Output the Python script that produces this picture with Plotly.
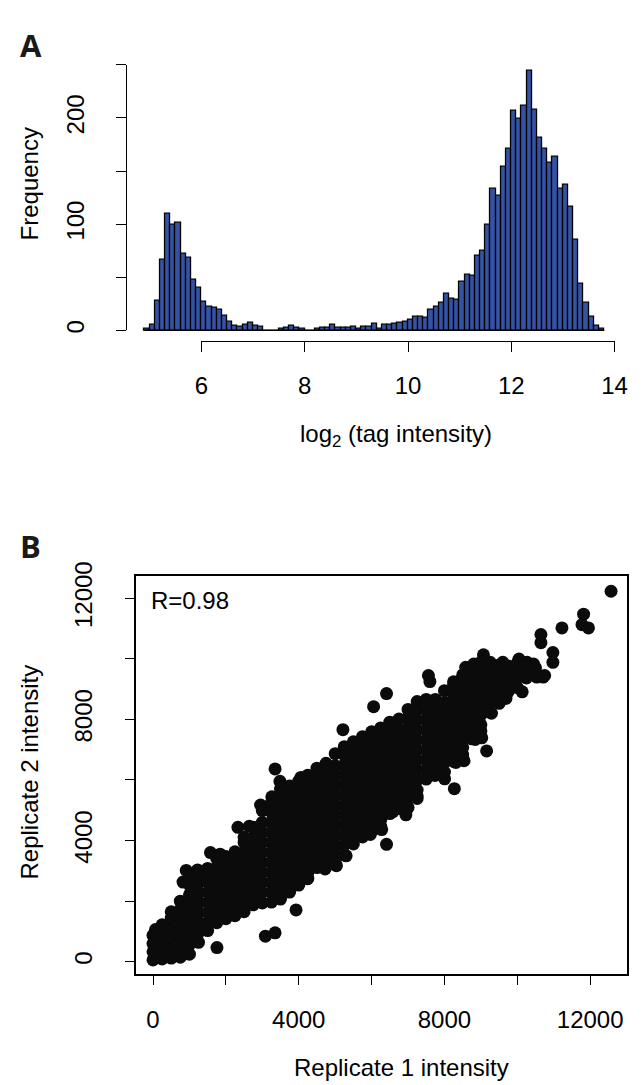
import plotly.graph_objects as go

# ---------------- Panel A: histogram of log2(tag intensity) ----------------
bin_start = 4.9
bin_width = 0.1
counts = [1, 5, 28, 66, 110, 99, 101, 72, 68, 48,
          40, 27, 22, 21, 19, 14, 8, 4, 3, 5,
          7, 4, 3, 0, 0, 0, 1, 2, 4, 2,
          1, 0, 0, 1, 2, 2, 5, 2, 2, 2,
          3, 1, 3, 3, 6, 1, 5, 5, 6, 7,
          8, 10, 13, 13, 12, 19, 22, 26, 34, 30,
          29, 46, 52, 51, 70, 75, 99, 133, 127, 154,
          171, 207, 199, 211, 244, 208, 181, 171, 158, 163,
          133, 137, 116, 85, 44, 26, 13, 4, 1]
hist_x_ticks = [6, 8, 10, 12, 14]
hist_y_labels = [0, 100, 200]
hist_y_minor = [50, 150, 250]

# ---------------- Panel B: replicate scatter ----------------
# isolated / edge points (replicate 1, replicate 2)
rep1_edge = [12573, 11819, 11775, 11952, 11225, 10648, 10648, 10976, 10976, 10711,
             10134, 9070, 8583, 8804, 9602, 10046, 10266, 10444, 7560, 7600,
             6410, 6055, 5213, 3351, 3484, 2331, 2641, 2952, 3262, 4060,
             1577, 1843, 912, 1223, 824, 69, 1755, 3085, 3351, 3926,
             4237, 4723, 5035, 5301, 6410, 6277, 5965, 6941, 6586, 7250,
             8271, 8005, 7739, 8537, 8314, 9157, 8846, 9024, 9290, 9689,
             10532]
rep2_edge = [12232, 11475, 11128, 11020, 11020, 10804, 10533, 10209, 9884, 9397,
             8910, 10133, 9722, 9830, 9884, 9992, 9883, 9830, 9450, 9250,
             8854, 8422, 7662, 6364, 5955, 4438, 4471, 5175, 5445, 6085,
             3604, 3552, 3013, 3032, 2630, 1062, 467, 844, 955, 1711,
             2740, 3065, 3172, 3497, 3876, 4364, 4201, 4851, 4958, 5390,
             5714, 6039, 6149, 6636, 6581, 6961, 7338, 7393, 8204, 8692,
             9396]

# dense core of the cloud, listed column by column (replicate 1 value per column)
rep1_core_cols = [0, 250, 500, 750, 1000, 1250, 1500, 1750, 2000, 2250,
                  2500, 2750, 3000, 3250, 3500, 3750, 4000, 4250, 4500, 4750,
                  5000, 5250, 5500, 5750, 6000, 6250, 6500, 6750, 7000, 7250,
                  7500, 7750, 8000, 8250, 8500, 8750, 9000, 9250, 9500, 9750,
                  10000, 10250, 10500, 10750]
rep2_core_cols = [
    [60, 330, 600, 870],
    [90, 400, 730, 1060, 1220],
    [120, 450, 780, 1110, 1440, 1650],
    [150, 400, 730, 1060, 1390, 1720, 2000],
    [250, 560, 890, 1220, 1550, 1880, 2210, 2540, 2750],
    [640, 960, 1290, 1620, 1950, 2280, 2610, 2850],
    [1030, 1300, 1630, 1960, 2290, 2620, 2950, 3080],
    [1290, 1460, 1790, 2120, 2450, 2780, 3110, 3400],
    [1420, 1630, 1960, 2290, 2620, 2950, 3280, 3470],
    [1520, 1790, 2120, 2450, 2780, 3110, 3440, 3630],
    [1650, 1960, 2290, 2620, 2950, 3280, 3610, 3940, 4110],
    [1880, 2120, 2450, 2780, 3110, 3440, 3770, 4100, 4440],
    [1940, 2290, 2620, 2950, 3280, 3610, 3940, 4270, 4600, 4990],
    [1970, 2300, 2630, 2960, 3290, 3620, 3950, 4280, 4610, 4940, 5250],
    [2070, 2400, 2730, 3060, 3390, 3720, 4050, 4380, 4710, 5040, 5370, 5700],
    [2300, 2610, 2940, 3270, 3600, 3930, 4260, 4590, 4920, 5250, 5580, 5800],
    [2530, 2780, 3110, 3440, 3770, 4100, 4430, 4760, 5090, 5420, 5750, 5960],
    [2750, 2940, 3270, 3600, 3930, 4260, 4590, 4920, 5250, 5580, 5910, 6160],
    [3110, 3440, 3770, 4100, 4430, 4760, 5090, 5420, 5750, 6080, 6390],
    [3140, 3330, 3660, 3990, 4320, 4650, 4980, 5310, 5640, 5970, 6300, 6550],
    [3270, 3500, 3830, 4160, 4490, 4820, 5150, 5480, 5810, 6140, 6470, 6870],
    [3530, 3860, 4190, 4520, 4850, 5180, 5510, 5840, 6170, 6500, 6830, 7100],
    [3890, 4100, 4430, 4760, 5090, 5420, 5750, 6080, 6410, 6740, 7070, 7260],
    [4120, 4350, 4680, 5010, 5340, 5670, 6000, 6330, 6660, 6990, 7320, 7430],
    [4310, 4520, 4850, 5180, 5510, 5840, 6170, 6500, 6830, 7160, 7490, 7590],
    [4470, 4680, 5010, 5340, 5670, 6000, 6330, 6660, 6990, 7320, 7650, 7720],
    [4890, 5180, 5510, 5840, 6170, 6500, 6830, 7160, 7490, 7820, 7910],
    [5060, 5340, 5670, 6000, 6330, 6660, 6990, 7320, 7650, 8010],
    [5090, 5420, 5750, 6080, 6410, 6740, 7070, 7400, 7730, 8060, 8330],
    [5480, 5670, 6000, 6330, 6660, 6990, 7320, 7650, 7980, 8310, 8590],
    [6030, 6330, 6660, 6990, 7320, 7650, 7980, 8310, 8660],
    [6290, 6500, 6830, 7160, 7490, 7820, 8150, 8480, 8660],
    [6260, 6580, 6910, 7240, 7570, 7900, 8230, 8560, 8950],
    [6610, 6830, 7160, 7490, 7820, 8150, 8480, 8810, 9140, 9240],
    [6840, 7070, 7400, 7730, 8060, 8390, 8720, 9050, 9380, 9470],
    [7360, 7650, 7980, 8310, 8640, 8970, 9300, 9600],
    [7620, 7820, 8150, 8480, 8810, 9140, 9470, 9800, 9890],
    [8240, 8560, 8890, 9220, 9550, 9890],
    [8530, 8810, 9140, 9470, 9800],
    [8920, 9220, 9550, 9760],
    [9050, 9380, 9710, 9860],
    [9370, 9600, 9760],
    [9450, 9700],
    [9450],
]
scatter_labels = [0, 4000, 8000, 12000]
scatter_minor = [2000, 6000, 10000]
r_label = "R=0.98"

# ---------------- build figure ----------------
W, H = 643, 1085
FONT = "Liberation Sans, Arial, Helvetica, sans-serif"
BLUE = "#3453a4"
INK = "#0b0b0b"


def px(x):
    return x / W


def py(y):
    return 1 - y / H


centers = [bin_start + bin_width * (i + 0.5) for i in range(len(counts))]

rep1_all = list(rep1_edge)
rep2_all = list(rep2_edge)
for xv, ys in zip(rep1_core_cols, rep2_core_cols):
    for yv in ys:
        rep1_all.append(xv)
        rep2_all.append(yv)

fig = go.Figure()
fig.add_trace(go.Bar(
    x=centers, y=counts, width=bin_width,
    marker=dict(color=BLUE, line=dict(color="black", width=1.3)),
    xaxis="x", yaxis="y", showlegend=False, hoverinfo="skip"))
# carrier trace for the detached R-style axes of panel A
fig.add_trace(go.Scatter(
    x=[hist_x_ticks[0], hist_x_ticks[-1]], y=[hist_y_labels[0], hist_y_minor[-1]],
    mode="markers", marker=dict(opacity=0), xaxis="x3", yaxis="y3",
    showlegend=False, hoverinfo="skip"))
fig.add_trace(go.Scatter(
    x=rep1_all, y=rep2_all, mode="markers",
    marker=dict(color=INK, size=13, line=dict(width=0)),
    xaxis="x2", yaxis="y2", showlegend=False, hoverinfo="skip"))

tickfont = dict(family=FONT, size=24, color="black")
common = dict(showline=True, linecolor="black", tickcolor="black", ticks="outside",
              tickfont=tickfont, showgrid=False, zeroline=False, fixedrange=True)

fig.update_layout(
    width=W, height=H,
    margin=dict(l=0, r=0, t=0, b=0),
    paper_bgcolor="white", plot_bgcolor="rgba(0,0,0,0)",
    bargap=0,
    xaxis=dict(domain=[px(123), px(635.4)], range=[4.544, 14.156], visible=False,
               anchor="y", fixedrange=True),
    yaxis=dict(domain=[py(331.2), py(46.6)], range=[-9.76, 253.8], visible=False,
               anchor="x", fixedrange=True),
    xaxis3=dict(domain=[px(200.7), px(627.1)], range=[6, 14], anchor="free",
                position=py(331.2), linewidth=1.4, ticklen=10, tickwidth=1.4,
                tickmode="array", tickvals=hist_x_ticks,
                ticktext=[str(v) for v in hist_x_ticks], ticklabelstandoff=13,
                **common),
    yaxis3=dict(domain=[py(320.66), py(50.7)], range=[0, 250], anchor="free",
                position=px(123), linewidth=1.4, ticklen=10, tickwidth=1.4,
                tickmode="array", tickvals=hist_y_labels,
                ticktext=[str(v) for v in hist_y_labels], tickangle=-90,
                ticklabelstandoff=22,
                minor=dict(tickmode="array", tickvals=hist_y_minor, ticks="outside",
                           ticklen=10, tickwidth=1.4, tickcolor="black",
                           showgrid=False),
                **common),
    xaxis2=dict(domain=[px(132.7), px(640)], range=[-478.7, 13013], anchor="y2",
                mirror=True, linewidth=1.5, ticklen=9, tickwidth=1.4,
                tickmode="array", tickvals=scatter_labels,
                ticktext=[str(v) for v in scatter_labels], ticklabelstandoff=14,
                minor=dict(tickmode="array", tickvals=scatter_minor, ticks="outside",
                           ticklen=9, tickwidth=1.4, tickcolor="black",
                           showgrid=False),
                **common),
    yaxis2=dict(domain=[py(975.5), py(570.7)], range=[-415.6, 12727], anchor="x2",
                mirror=True, linewidth=1.5, ticklen=9, tickwidth=1.4,
                tickmode="array", tickvals=scatter_labels,
                ticktext=[str(v) for v in scatter_labels], tickangle=-90,
                ticklabelstandoff=23,
                minor=dict(tickmode="array", tickvals=scatter_minor, ticks="outside",
                           ticklen=9, tickwidth=1.4, tickcolor="black",
                           showgrid=False),
                **common),
)

# baseline under the histogram bins (R draws empty bins as a flat line)
fig.add_shape(type="line", xref="x", yref="y",
              x0=bin_start, x1=bin_start + bin_width * len(counts), y0=0, y1=0,
              line=dict(color="black", width=1.2))

label_font = dict(family=FONT, size=24, color="black")
panel_font = dict(family="Open Sans, Liberation Sans, Arial, sans-serif", size=31,
                  color="#1a1a1a", weight="bold")
annos = [
    dict(text="A", x=px(24.5), y=py(30), font=panel_font),
    dict(text="B", x=px(24.5), y=py(540), font=panel_font),
    dict(text="Frequency", x=px(23), y=py(172), textangle=-90, font=label_font),
    dict(text="log<sub>2</sub> (tag intensity)", x=px(401), y=py(428), font=label_font),
    dict(text="Replicate 2 intensity", x=px(23), y=py(770), textangle=-90,
         font=label_font),
    dict(text="Replicate 1 intensity", x=px(407), y=py(1070), font=label_font),
    dict(text=r_label, x=px(147), y=py(595.5), xanchor="left", font=label_font),
]
for a in annos:
    a.setdefault("xanchor", "center")
    fig.add_annotation(xref="paper", yref="paper", showarrow=False,
                       yanchor="middle", **a)

# remove the default page margin so the 643x1085 figure fills the window exactly
fig.write_html(
    "out.html",
    config={"displayModeBar": False},
    post_script=("document.body.style.margin='0';document.body.style.padding='0';"
                 "document.documentElement.style.overflow='hidden';"),
)
